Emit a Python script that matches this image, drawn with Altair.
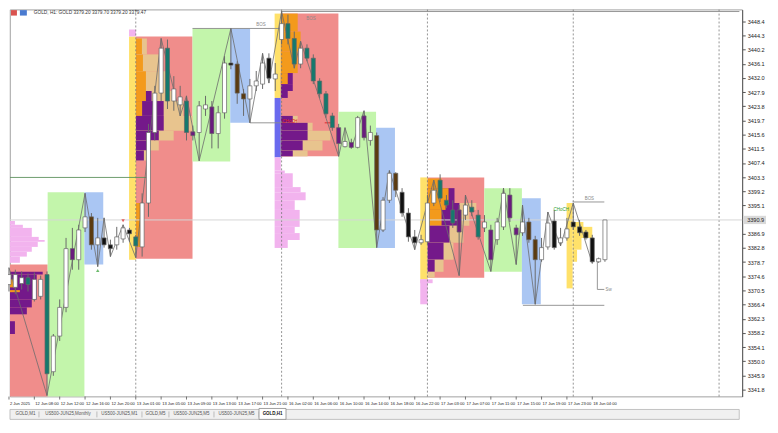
import altair as alt
import pandas as pd

W, H = 738, 390
X_DOMAIN = [0.16, 115.65]
P_DOMAIN = [3339.8, 3451.75]

# ---------------- axis values ----------------
price_ticks = [3341.8, 3345.9, 3350.0, 3354.1, 3358.2, 3362.3, 3366.4, 3370.5,
               3374.6, 3378.7, 3382.8, 3386.9, 3395.1, 3399.2, 3403.3, 3407.4,
               3411.5, 3415.6, 3419.7, 3423.8, 3427.9, 3432.0, 3436.1, 3440.2,
               3444.3, 3448.4]
last_price = 3390.9
last_price_label = "3390.9"

time_bars = [0, 4, 8, 12, 16, 20, 24, 28, 32, 36, 40, 44, 48, 52, 56, 60,
             64, 68, 72, 76, 80, 84, 88, 92]
time_labels = ["2 Jun 2025", "12 Jun 08:00", "12 Jun 12:00", "12 Jun 16:00",
               "12 Jun 20:00", "13 Jun 01:00", "13 Jun 05:00", "13 Jun 09:00",
               "13 Jun 13:00", "13 Jun 17:00", "13 Jun 21:00", "16 Jun 02:00",
               "16 Jun 06:00", "16 Jun 10:00", "16 Jun 14:00", "16 Jun 18:00",
               "16 Jun 22:00", "17 Jun 03:00", "17 Jun 07:00", "17 Jun 11:00",
               "17 Jun 15:00", "17 Jun 19:00", "17 Jun 23:00", "18 Jun 04:00"]
day_breaks = [20, 43, 66, 89, 112]

# ---------------- candles (H1 bars) ----------------
candle_open = [3372.2, 3371.4, 3372.5, 3374.2, 3367.9, 3368.8, 3375.1, 3347.0, 3357.3, 3365.6,
               3382.6, 3379.4, 3388.6, 3391.8, 3383.7, 3385.7, 3383.7, 3383.7, 3385.4, 3388.0,
               3386.0, 3383.1, 3395.8, 3416.2, 3427.6, 3440.6, 3425.3, 3424.2, 3425.3, 3416.4,
               3416.2, 3423.0, 3423.6, 3415.9, 3421.9, 3436.3, 3436.0, 3427.4, 3425.9, 3429.7,
               3430.2, 3437.7, 3431.7, 3443.1, 3447.7, 3443.4, 3436.0, 3440.6, 3437.7, 3431.1,
               3427.4, 3421.0, 3417.6, 3412.1, 3413.3, 3411.9, 3421.0, 3413.9, 3415.3, 3388.0,
               3396.6, 3404.4, 3398.9, 3392.9, 3386.0, 3384.3, 3384.6, 3395.8, 3402.4, 3396.6,
               3393.8, 3393.8, 3392.3, 3394.6, 3392.3, 3388.6, 3388.0, 3385.2, 3388.9, 3398.1,
               3388.6, 3387.2, 3390.3, 3385.2, 3379.4, 3383.1, 3390.6, 3384.3, 3385.7, 3390.3,
               3388.9, 3387.4, 3385.7, 3378.8, 3379.4]
candle_high = [3377.1, 3376.5, 3376.0, 3375.4, 3375.7, 3374.8, 3376.0, 3357.9, 3367.9, 3385.7,
               3388.6, 3389.5, 3398.6, 3392.9, 3391.5, 3391.5, 3385.2, 3388.9, 3389.5, 3388.6,
               3386.6, 3398.6, 3418.7, 3429.7, 3443.4, 3443.1, 3432.5, 3429.7, 3426.8, 3418.2,
               3425.3, 3426.8, 3425.3, 3423.9, 3438.3, 3446.3, 3436.8, 3428.8, 3431.7, 3434.0,
               3439.1, 3439.1, 3436.3, 3451.2, 3450.3, 3445.4, 3442.6, 3441.7, 3438.8, 3431.9,
               3428.2, 3421.9, 3418.7, 3417.6, 3414.4, 3421.0, 3422.5, 3418.2, 3416.2, 3397.5,
               3405.2, 3404.7, 3400.1, 3394.3, 3388.0, 3386.6, 3398.1, 3402.4, 3404.1, 3398.1,
               3396.6, 3395.2, 3398.1, 3396.6, 3393.8, 3392.3, 3389.5, 3391.5, 3400.1, 3400.1,
               3389.5, 3395.2, 3391.5, 3386.3, 3385.7, 3393.2, 3393.8, 3388.6, 3391.5, 3395.8,
               3390.9, 3388.0, 3386.6, 3380.0, 3390.9]
candle_low = [3370.2, 3369.4, 3370.8, 3370.2, 3367.3, 3367.9, 3340.1, 3345.8, 3355.9, 3364.2,
              3376.5, 3376.5, 3387.4, 3382.3, 3377.4, 3382.9, 3380.3, 3382.3, 3384.3, 3384.6,
              3380.0, 3380.3, 3391.8, 3413.9, 3425.3, 3423.0, 3422.5, 3421.0, 3413.9, 3413.9,
              3408.0, 3421.0, 3411.6, 3411.6, 3420.2, 3434.5, 3424.5, 3421.0, 3419.0, 3428.2,
              3428.8, 3430.5, 3428.2, 3441.7, 3441.7, 3434.8, 3434.8, 3436.8, 3430.2, 3426.2,
              3420.5, 3416.7, 3409.3, 3411.9, 3411.6, 3411.6, 3413.9, 3412.4, 3382.9, 3387.4,
              3395.8, 3397.5, 3391.8, 3384.6, 3382.3, 3383.7, 3383.7, 3394.9, 3396.1, 3394.3,
              3388.6, 3374.8, 3390.9, 3392.0, 3385.2, 3387.4, 3376.0, 3383.7, 3388.0, 3390.3,
              3378.0, 3386.3, 3384.3, 3366.5, 3378.8, 3382.3, 3382.3, 3383.4, 3384.9, 3388.0,
              3386.3, 3385.2, 3378.3, 3378.5, 3378.8]
candle_close = [3375.1, 3375.1, 3374.2, 3372.2, 3373.7, 3373.7, 3346.4, 3357.3, 3365.6, 3382.6,
                3379.4, 3388.0, 3391.8, 3383.7, 3385.7, 3383.7, 3382.6, 3386.0, 3388.6, 3386.9,
                3383.4, 3395.8, 3416.2, 3427.6, 3440.6, 3425.3, 3428.8, 3426.5, 3416.2, 3415.3,
                3423.9, 3424.2, 3415.9, 3421.9, 3436.3, 3435.7, 3427.6, 3425.9, 3429.7, 3431.1,
                3436.3, 3431.9, 3433.1, 3447.7, 3443.4, 3436.0, 3440.6, 3437.7, 3431.1, 3427.4,
                3421.6, 3417.6, 3413.0, 3413.6, 3411.9, 3420.5, 3414.7, 3416.2, 3388.0, 3396.6,
                3404.4, 3399.5, 3392.9, 3386.0, 3384.3, 3385.2, 3395.8, 3399.5, 3397.2, 3395.2,
                3390.0, 3387.4, 3395.2, 3393.2, 3386.0, 3390.3, 3379.4, 3390.3, 3398.6, 3391.5,
                3386.6, 3390.3, 3385.2, 3379.4, 3382.9, 3390.0, 3382.9, 3385.7, 3388.3, 3388.9,
                3387.2, 3385.7, 3378.8, 3379.7, 3390.9]
# body colouring of the candle indicator: w hollow, t teal, p purple, b brown, k black
candle_kind = ["w", "w", "w", "t", "w", "w", "t", "w", "w", "w",
               "p", "w", "w", "b", "w", "k", "k", "w", "w", "k",
               "t", "w", "w", "w", "w", "t", "w", "w", "t", "p",
               "w", "w", "p", "w", "w", "k", "b", "b", "w", "w",
               "w", "k", "w", "w", "t", "t", "w", "t", "t", "t",
               "t", "t", "p", "w", "p", "w", "p", "w", "b", "w",
               "w", "b", "k", "k", "k", "w", "w", "w", "t", "t",
               "t", "p", "w", "t", "t", "w", "p", "w", "w", "p",
               "p", "w", "b", "b", "w", "w", "k", "w", "w", "k",
               "k", "k", "k", "w", "w"]

# zigzag swing points: (bar, "H" high / "L" low)
zigzag_pivots = [(0, "H"), (6, "L"), (12, "H"), (14, "L"), (15, "H"), (16, "L"), (18, "H"),
                 (20, "L"), (24, "H"), (27, "L"), (28, "H"), (30, "L"), (35, "H"), (38, "L"),
                 (40, "H"), (41, "L"), (43, "H"), (45, "L"), (46, "H"), (52, "L"), (53, "H"),
                 (54, "L"), (56, "H"), (58, "L"), (60, "H"), (64, "L"), (67, "H"), (71, "L"),
                 (72, "H"), (76, "L"), (78, "H"), (80, "L"), (81, "H"), (83, "L"), (85, "H"),
                 (87, "L"), (89, "H"), (92, "L")]

# ---------------- session boxes: (start bar, end bar, top price, bottom price, kind) ----
session_boxes = [
    (0.16, 6.1, 3378.0, 3339.8, "red"),
    (6.1, 11.9, 3398.9, 3339.8, "green"),
    (11.9, 14.87, 3398.9, 3378.0, "blue"),
    (18.94, 20.03, 3444.0, 3379.4, "yellow"),
    (18.94, 20.03, 3446.0, 3444.0, "pink"),
    (20.03, 28.95, 3444.0, 3379.7, "red"),
    (28.95, 34.9, 3446.3, 3407.8, "green"),
    (34.9, 38.03, 3446.3, 3419.0, "blue"),
    (41.9, 42.88, 3450.6, 3426.2, "yellow"),
    (41.9, 42.88, 3426.2, 3409.0, "indigo"),
    (42.88, 51.96, 3450.6, 3409.3, "red"),
    (51.96, 57.9, 3422.2, 3382.8, "green"),
    (57.9, 60.88, 3417.6, 3382.8, "blue"),
    (64.87, 66.04, 3403.2, 3373.7, "yellow"),
    (66.04, 74.96, 3403.2, 3374.2, "red"),
    (74.96, 80.9, 3400.1, 3375.9, "green"),
    (80.9, 83.88, 3397.2, 3366.5, "blue"),
    (87.95, 88.9, 3395.8, 3371.1, "yellow"),
]

# ---------------- volume profiles ----------------
# (start bar, top, bottom, orange end, purple end, tan end)  0 = none
profile_rows = [
    (0.16, 3375.9, 3375.1, 0, 5.32, 0),
    (0.16, 3375.1, 3367.9, 0, 4.38, 0),
    (0.16, 3367.9, 3365.6, 0, 3.6, 0),
    (0.16, 3365.6, 3363.6, 0, 2.82, 0),
    (0.16, 3361.6, 3357.9, 0, 0.94, 0),
    (0.16, 3373.7, 3371.4, 0.8, 0, 0),
    (0.16, 3370.6, 3370.0, 1.72, 0, 0),
    (20.03, 3443.4, 3438.8, 20.97, 0, 21.75),
    (20.03, 3438.8, 3433.9, 21.13, 0, 23.63),
    (20.03, 3433.9, 3428.2, 21.6, 0, 25.2),
    (20.03, 3428.2, 3425.3, 21.6, 22.5, 26.0),
    (20.03, 3425.3, 3421.0, 21.0, 24.4, 27.5),
    (20.03, 3421.0, 3416.7, 0, 24.41, 28.95),
    (20.03, 3416.7, 3413.9, 0, 23.63, 25.98),
    (20.03, 3413.9, 3411.0, 0, 22.07, 23.63),
    (20.03, 3411.0, 3408.1, 0, 21.28, 22.07),
    (20.03, 3395.8, 3383.1, 20.97, 0, 0),
    (42.88, 3450.6, 3445.4, 45.54, 0, 0),
    (42.88, 3445.4, 3439.7, 46.0, 0, 0),
    (42.88, 3439.7, 3433.4, 45.54, 0, 0),
    (42.88, 3433.4, 3430.2, 43.97, 44.76, 0),
    (42.88, 3430.2, 3428.2, 0, 44.76, 0),
    (42.88, 3428.2, 3426.2, 0, 43.97, 0),
    (42.88, 3421.0, 3419.0, 0, 44.76, 45.54),
    (42.88, 3419.0, 3416.7, 0, 47.1, 47.89),
    (42.88, 3416.7, 3413.9, 0, 47.1, 50.7),
    (42.88, 3413.9, 3411.0, 0, 46.32, 49.45),
    (42.88, 3411.0, 3409.3, 0, 44.76, 47.1),
    (66.04, 3402.9, 3400.1, 68.23, 0, 0),
    (66.04, 3400.1, 3395.8, 69.33, 70.27, 0),
    (66.04, 3395.8, 3393.8, 68.86, 71.05, 73.71),
    (66.04, 3393.8, 3389.2, 68.23, 71.05, 72.61),
    (66.04, 3389.2, 3384.3, 0, 69.48, 71.67),
    (66.04, 3384.3, 3379.4, 0, 68.54, 70.1),
    (66.04, 3379.4, 3375.9, 0, 67.14, 68.54),
    (66.04, 3375.9, 3374.2, 0, 0, 67.14),
]
# single-colour histograms: (start bar, top, bottom, end bar, kind)
histogram_rows = [
    (0.16, 3390.6, 3389.5, 0.94, "pink"),
    (0.16, 3389.5, 3388.6, 2.19, "pink"),
    (0.16, 3388.6, 3386.0, 3.6, "pink"),
    (0.16, 3386.0, 3385.1, 4.69, "pink"),
    (0.16, 3385.1, 3384.6, 5.63, "pink"),
    (0.16, 3384.6, 3383.1, 4.54, "pink"),
    (0.16, 3383.1, 3381.7, 3.6, "pink"),
    (0.16, 3381.7, 3380.3, 2.82, "pink"),
    (0.16, 3380.3, 3378.5, 1.72, "pink"),
    (41.9, 3409.0, 3405.2, 42.88, "pink"),
    (41.9, 3405.2, 3404.4, 43.5, "pink"),
    (41.9, 3404.4, 3400.4, 44.76, "pink"),
    (41.9, 3400.4, 3398.9, 46.0, "pink"),
    (41.9, 3398.9, 3396.6, 46.79, "pink"),
    (41.9, 3396.6, 3393.8, 45.07, "pink"),
    (41.9, 3393.8, 3388.9, 45.85, "pink"),
    (41.9, 3388.9, 3387.1, 45.07, "pink"),
    (41.9, 3387.1, 3385.1, 45.85, "pink"),
    (41.9, 3385.1, 3382.8, 43.97, "pink"),
    (64.87, 3373.7, 3366.5, 66.04, "pink"),
    (64.87, 3373.7, 3372.6, 66.82, "pink"),
    (88.9, 3390.3, 3385.7, 90.6, "yellow"),
    (88.9, 3388.9, 3385.7, 92.0, "yellow"),
    (88.9, 3385.7, 3382.3, 90.3, "yellow"),
    (88.9, 3382.3, 3378.8, 89.6, "yellow"),
]

# ---------------- structure lines & labels ----------------
# (start bar, end bar, price, kind)
level_lines = [
    (0.16, 21.75, 3403.2, "level"),
    (28.95, 42.88, 3446.3, "bos"),
    (38.03, 42.88, 3419.0, "bos"),
    (42.88, 115.2, 3451.2, "bos"),
    (49.8, 51.0, 3419.0, "choch_red"),
    (88.9, 93.9, 3396.1, "bos"),
    (81.06, 93.9, 3366.2, "bos"),
    (92.8, 93.9, 3370.8, "bos"),
]
swing_drop = (92.8, 3379.4, 3370.8)
# (bar, price, text, kind)
structure_labels = [
    (39.0, 3446.6, "BOS", "bos"),
    (46.9, 3448.6, "BOS", "bos"),
    (90.8, 3396.4, "BOS", "bos"),
    (43.1, 3418.7, "CHoCH", "choch_red"),
    (85.9, 3393.3, "CHoCH", "choch_green"),
    (94.1, 3370.0, "Sw", "bos"),
]
arrow_marks = [(18, 3390.7, "down"), (14, 3376.3, "up")]

tab_labels = ["GOLD,M1", "US500-JUN25,Monthly", "US500-JUN25,M1", "GOLD,M5",
              "US500-JUN25,M5", "US500-JUN25,M5", "GOLD,H1"]
header_text = "GOLD, H1:  GOLD  3379.20 3379.70 3379.20 3379.47"

# ---------------- styles ----------------
box_col = {"red": "#f08d8b", "green": "#c3f5ab", "blue": "#aac6f3", "yellow": "#ffe16a",
           "pink": "#f2b3ee", "indigo": "#6a6aee"}
prof_col = {"orange": "#f39a1c", "purple": "#74198a", "tan": "#e8c48e"}
body_col = {"w": "#ffffff", "t": "#15796d", "p": "#6a1b7e", "b": "#5b3a0f", "k": "#111111"}
line_col = {"level": "#5d915d", "bos": "#8a8a8a", "choch_red": "#e02020", "choch_green": "#2f9e2f"}
FONT = "Liberation Sans"

xs = alt.Scale(domain=X_DOMAIN, nice=False, zero=False)
ys = alt.Scale(domain=P_DOMAIN, nice=False, zero=False)
yaxis = alt.Axis(orient="right", values=price_ticks, format=".1f", title=None, grid=False,
                 labelFontSize=5.6, labelFont=FONT, labelColor="#222", tickSize=3,
                 tickColor="#555", domainColor="#555", labelPadding=2, labelFlush=False,
                 labelOverlap=False)


def X(f):
    return alt.X(f, scale=xs, axis=None)


def Y(f):
    return alt.Y(f, scale=ys, axis=yaxis)


# ---------------- tables ----------------
df_box = pd.DataFrame(session_boxes, columns=["x0", "x1", "top", "bot", "k"])
df_box["c"] = df_box["k"].map(box_col)

df_hist = pd.DataFrame(histogram_rows, columns=["x0", "top", "bot", "x1", "k"])
df_hist["c"] = df_hist["k"].map(box_col)

seg = []
for x0, top, bot, o_end, p_end, t_end in profile_rows:
    for end, kind in ((t_end, "tan"), (p_end, "purple"), (o_end, "orange")):
        if end:
            seg.append({"x0": x0, "x1": end, "top": top, "bot": bot, "c": prof_col[kind],
                        "i": len(seg)})
df_prof = pd.DataFrame(seg)

df_lines = pd.DataFrame(level_lines, columns=["x0", "x1", "p", "k"])
df_lines["c"] = df_lines["k"].map(line_col)

df_c = pd.DataFrame({"bar": list(range(len(candle_open))), "open": candle_open,
                     "high": candle_high, "low": candle_low, "close": candle_close,
                     "kind": candle_kind})
df_c["fc"] = df_c["kind"].map(body_col)
df_c["xl"] = df_c["bar"] - 0.32
df_c["xr"] = df_c["bar"] + 0.32

zz = []
for j, (b, t) in enumerate(zigzag_pivots):
    zz.append({"i": j, "bar": b, "p": candle_high[b] if t == "H" else candle_low[b]})
df_zz = pd.DataFrame(zz)

df_lab = pd.DataFrame(structure_labels, columns=["bar", "p", "t", "k"])
df_lab["c"] = df_lab["k"].map(line_col)

df_time = pd.DataFrame({"bar": time_bars, "t": time_labels})
df_days = pd.DataFrame({"bar": day_breaks})

# ---------------- layers ----------------
layers = []
layers.append(alt.Chart(df_box).mark_rect().encode(
    x=X("x0:Q"), x2="x1:Q", y=Y("top:Q"), y2="bot:Q", fill=alt.Fill("c:N", scale=None)))
layers.append(alt.Chart(df_hist).mark_rect().encode(
    x=X("x0:Q"), x2="x1:Q", y=Y("top:Q"), y2="bot:Q", fill=alt.Fill("c:N", scale=None)))
layers.append(alt.Chart(df_prof).mark_rect().encode(
    x=X("x0:Q"), x2="x1:Q", y=Y("top:Q"), y2="bot:Q", fill=alt.Fill("c:N", scale=None),
    order="i:Q"))
layers.append(alt.Chart(df_days).mark_rule(strokeDash=[2, 2], color="#7a7a7a", strokeWidth=0.8)
              .encode(x=X("bar:Q")))
layers.append(alt.Chart(pd.DataFrame({"p": [last_price]})).mark_rule(color="#d6d6d6", strokeWidth=1)
              .encode(y=Y("p:Q")))
layers.append(alt.Chart(df_lines).mark_rule(strokeWidth=0.9).encode(
    x=X("x0:Q"), x2="x1:Q", y=Y("p:Q"), stroke=alt.Stroke("c:N", scale=None)))
layers.append(alt.Chart(pd.DataFrame({"bar": [swing_drop[0]], "p1": [swing_drop[1]],
                                      "p2": [swing_drop[2]]}))
              .mark_rule(color="#8a8a8a", strokeWidth=0.9)
              .encode(x=X("bar:Q"), y=Y("p1:Q"), y2="p2:Q"))
layers.append(alt.Chart(df_zz).mark_line(color="#6d6d6d", strokeWidth=0.8).encode(
    x=X("bar:Q"), y=Y("p:Q"), order="i:Q"))
layers.append(alt.Chart(df_c).mark_rule(color="#6a6a6a", strokeWidth=1).encode(
    x=X("bar:Q"), y=Y("low:Q"), y2="high:Q"))
layers.append(alt.Chart(df_c).mark_rect(stroke="#666666", strokeWidth=0.7).encode(
    x=X("xl:Q"), x2="xr:Q", y=Y("open:Q"), y2="close:Q", fill=alt.Fill("fc:N", scale=None)))
for b, p, d in arrow_marks:
    layers.append(alt.Chart(pd.DataFrame({"bar": [b], "p": [p]})).mark_point(
        shape="triangle-down" if d == "down" else "triangle-up", size=12, filled=True,
        color="#e02020" if d == "down" else "#2f9e2f").encode(x=X("bar:Q"), y=Y("p:Q")))
layers.append(alt.Chart(df_lab).mark_text(fontSize=4.5, font=FONT, align="left", baseline="bottom",
                                           clip=False).encode(
    x=X("bar:Q"), y=Y("p:Q"), text="t:N", color=alt.Color("c:N", scale=None)))

# time axis
layers.append(alt.Chart(df_time).mark_rule(color="#555", strokeWidth=0.8).encode(
    x=X("bar:Q"), y=alt.value(H), y2=alt.value(H + 3)))
layers.append(alt.Chart(df_time).mark_text(fontSize=4.1, font=FONT, align="left", baseline="middle",
                                            dx=1, color="#222").encode(
    x=X("bar:Q"), y=alt.value(H + 7), text="t:N"))

# current price tag on the price scale
layers.append(alt.Chart(pd.DataFrame({"p1": [last_price + 1.2], "p2": [last_price - 1.2]}))
              .mark_rect(color="#d9d9d9").encode(
    x=alt.value(W + 1), x2=alt.value(W + 24), y=Y("p1:Q"), y2="p2:Q"))
layers.append(alt.Chart(pd.DataFrame({"p": [last_price], "t": [last_price_label]}))
              .mark_text(fontSize=5.6, font=FONT, align="left", baseline="middle", color="#222")
              .encode(x=alt.value(W + 5), y=Y("p:Q"), text="t:N"))

# header
layers.append(alt.Chart(pd.DataFrame({"t": [header_text]})).mark_text(
    fontSize=4.8, font=FONT, align="left", baseline="middle", color="#333").encode(
    x=alt.value(24), y=alt.value(3.5), text="t:N"))
layers.append(alt.Chart(pd.DataFrame({"t": ["a"]})).mark_rect(color="#d9534f").encode(
    x=alt.value(1), x2=alt.value(7), y=alt.value(0.5), y2=alt.value(6)))
layers.append(alt.Chart(pd.DataFrame({"t": ["b"]})).mark_rect(color="#4a7bd0").encode(
    x=alt.value(10), x2=alt.value(17), y=alt.value(0.5), y2=alt.value(6)))

# tab strip
layers.append(alt.Chart(pd.DataFrame({"t": ["strip"]})).mark_rect(
    fill="#f0f0f0", stroke="#b5b5b5", strokeWidth=0.8).encode(
    x=alt.value(0), x2=alt.value(735), y=alt.value(403), y2=alt.value(413)))
tx = 2.0
for n, lab in enumerate(tab_labels):
    w = 2.6 * len(lab) + 9
    active = n == len(tab_labels) - 1
    if active:
        layers.append(alt.Chart(pd.DataFrame({"t": [lab]})).mark_rect(
            fill="#ffffff", stroke="#888", strokeWidth=0.8).encode(
            x=alt.value(tx), x2=alt.value(tx + w), y=alt.value(402), y2=alt.value(413)))
    else:
        layers.append(alt.Chart(pd.DataFrame({"t": [lab]})).mark_rule(
            color="#b0b0b0", strokeWidth=0.8).encode(
            x=alt.value(tx + w), y=alt.value(405), y2=alt.value(411)))
    layers.append(alt.Chart(pd.DataFrame({"t": [lab]})).mark_text(
        fontSize=4.5, font=FONT, align="center", baseline="middle",
        color="#111" if active else "#555", fontWeight="bold" if active else "normal").encode(
        x=alt.value(tx + w / 2), y=alt.value(408), text="t:N"))
    tx += w

chart = alt.layer(*layers).properties(
    width=W, height=H,
    autosize=alt.AutoSizeParams(type="none"),
    padding={"left": 2, "top": 0, "right": 28, "bottom": 25},
    background="white",
).configure_view(stroke="#8a8a8a", strokeWidth=0.8)

chart.save("out.html", embed_options={"renderer": "svg", "actions": False})
